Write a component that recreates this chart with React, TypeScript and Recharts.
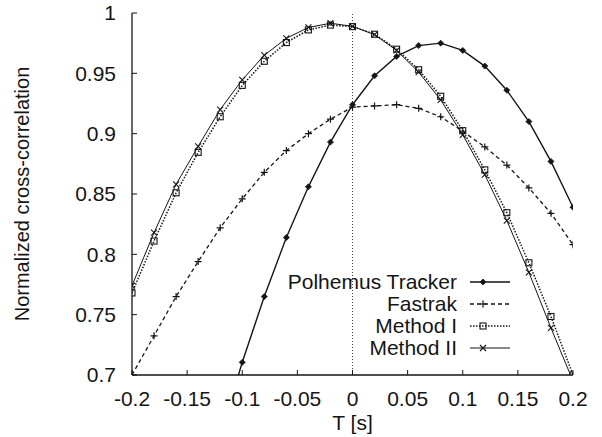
import React from 'react'
import { LineChart, Line, XAxis, YAxis, ReferenceLine, Legend } from 'recharts'

// T [s], sampled every 0.02 s
const tValues = [-0.2, -0.18, -0.16, -0.14, -0.12, -0.1, -0.08, -0.06, -0.04, -0.02, 0, 0.02, 0.04, 0.06, 0.08, 0.1, 0.12, 0.14, 0.16, 0.18, 0.2]

const polhemus = [null, null, null, null, 0.65, 0.7105, 0.765, 0.814, 0.856, 0.893, 0.924, 0.948, 0.964, 0.973, 0.975, 0.969, 0.956, 0.936, 0.91, 0.877, 0.839]
const fastrak = [0.7, 0.7325, 0.765, 0.794, 0.822, 0.846, 0.868, 0.886, 0.9, 0.912, 0.922, 0.923, 0.924, 0.921, 0.914, 0.902, 0.889, 0.874, 0.855, 0.834, 0.808]
const methodI = [0.768, 0.811, 0.851, 0.8845, 0.914, 0.94, 0.96, 0.9755, 0.986, 0.99, 0.9887, 0.9824, 0.97, 0.953, 0.931, 0.9025, 0.87, 0.8345, 0.793, 0.7485, 0.7]
const methodII = [0.774, 0.818, 0.858, 0.8895, 0.92, 0.9446, 0.965, 0.979, 0.988, 0.9915, 0.989, 0.982, 0.969, 0.951, 0.928, 0.899, 0.866, 0.828, 0.785, 0.739, 0.695]

const xTicks = [-0.2, -0.15, -0.1, -0.05, 0, 0.05, 0.1, 0.15, 0.2]
const yTicks = [0.7, 0.75, 0.8, 0.85, 0.9, 0.95, 1]

const INK = '#151515'
const FONT = '"Liberation Sans", Arial, Helvetica, sans-serif'
const FS = 21
const TICK = 5

const data = tValues.map((t, i) => ({
  t,
  polhemus: polhemus[i],
  fastrak: fastrak[i],
  methodI: methodI[i],
  methodII: methodII[i],
}))

type Kind = 'diamond' | 'plus' | 'square' | 'cross'

function Marker({ kind, cx, cy }: { kind: Kind; cx: number; cy: number }) {
  if (kind === 'diamond')
    return <path d={`M${cx},${cy - 3}L${cx + 3},${cy}L${cx},${cy + 3}L${cx - 3},${cy}Z`} fill={INK} stroke={INK} strokeWidth={0.8} />
  if (kind === 'plus')
    return <path d={`M${cx - 3.5},${cy}H${cx + 3.5}M${cx},${cy - 3.5}V${cy + 3.5}`} stroke={INK} strokeWidth={1.2} fill="none" />
  if (kind === 'square')
    return <rect x={cx - 3} y={cy - 3} width={6} height={6} fill="none" stroke={INK} strokeWidth={1.1} />
  return <path d={`M${cx - 3},${cy - 3}L${cx + 3},${cy + 3}M${cx - 3},${cy + 3}L${cx + 3},${cy - 3}`} stroke={INK} strokeWidth={1.1} fill="none" />
}

const series: { key: string; name: string; kind: Kind; dash?: string; width: number }[] = [
  { key: 'polhemus', name: 'Polhemus Tracker', kind: 'diamond', width: 1.4 },
  { key: 'fastrak', name: 'Fastrak', kind: 'plus', dash: '4 3', width: 1.3 },
  { key: 'methodI', name: 'Method I', kind: 'square', dash: '1.5 1.5', width: 1.5 },
  { key: 'methodII', name: 'Method II', kind: 'cross', width: 1 },
]

const dotFor = (kind: Kind, key: string) => (p: any) =>
  p.cx == null || p.cy == null || p.value == null
    ? <g key={`${key}-${p.index}`} />
    : <g key={`${key}-${p.index}`}><Marker kind={kind} cx={p.cx} cy={p.cy} /></g>

const fmt = (v: number) => String(v)

function BottomTick({ x, y, payload }: any) {
  return (
    <g>
      <line x1={x} x2={x} y1={y} y2={y - TICK} stroke={INK} strokeWidth={1} />
      <text x={x} y={y + 24} dy="0.35em" textAnchor="middle" fill={INK} fontSize={FS} fontFamily={FONT}>{fmt(payload.value)}</text>
    </g>
  )
}

function LeftTick({ x, y, payload }: any) {
  return (
    <g>
      <line x1={x} x2={x + TICK} y1={y} y2={y} stroke={INK} strokeWidth={1} />
      <text x={x - 16} y={y} dy="0.35em" textAnchor="end" fill={INK} fontSize={FS} fontFamily={FONT}>{fmt(payload.value)}</text>
    </g>
  )
}

function TopTick({ x, y }: any) {
  return <line x1={x} x2={x} y1={y} y2={y + TICK} stroke={INK} strokeWidth={1} />
}

function RightTick({ x, y }: any) {
  return <line x1={x} x2={x - TICK} y1={y} y2={y} stroke={INK} strokeWidth={1} />
}

function LegendBox() {
  return (
    <div style={{ fontFamily: FONT, fontSize: FS, color: INK }}>
      {series.map(s => (
        <div key={s.key} style={{ display: 'flex', alignItems: 'center', justifyContent: 'flex-end', height: 22, lineHeight: '22px' }}>
          <span>{s.name}</span>
          <svg width={42} height={22} style={{ marginLeft: 12 }}>
            <line x1={1} x2={41} y1={11} y2={11} stroke={INK} strokeWidth={s.width} strokeDasharray={s.dash} />
            <Marker kind={s.kind} cx={14} cy={11} />
          </svg>
        </div>
      ))}
    </div>
  )
}

export default function App() {
  return (
    <div style={{ position: 'absolute', left: 0, top: 0, background: '#fff' }}>
      <LineChart width={602} height={437} data={data} margin={{ top: 13, right: 29, left: 0, bottom: 0 }}>
        <XAxis
          dataKey="t" type="number" domain={[-0.2, 0.2]} ticks={xTicks} interval={0} allowDataOverflow
          height={62} tickSize={0} tickMargin={0} tickLine={false} tick={<BottomTick />}
          axisLine={{ stroke: INK, strokeWidth: 1.3 }}
          label={{ value: 'T [s]', position: 'insideBottom', offset: 7, fill: INK, fontSize: FS, fontFamily: FONT }}
        />
        <XAxis
          xAxisId="top" orientation="top" dataKey="t" type="number" domain={[-0.2, 0.2]} ticks={xTicks} interval={0} allowDataOverflow
          height={0} tickSize={0} tickMargin={0} tickLine={false} tick={<TopTick />}
          axisLine={{ stroke: INK, strokeWidth: 1.3 }}
        />
        <YAxis
          type="number" domain={[0.7, 1]} ticks={yTicks} interval={0} allowDataOverflow
          width={132} tickSize={0} tickMargin={0} tickLine={false} tick={<LeftTick />}
          axisLine={{ stroke: INK, strokeWidth: 1.3 }}
          label={{ value: 'Normalized cross-correlation', angle: -90, position: 'insideLeft', offset: 22, fill: INK, fontSize: 20, fontFamily: FONT, style: { textAnchor: 'middle' } }}
        />
        <YAxis
          yAxisId="right" orientation="right" type="number" domain={[0.7, 1]} ticks={yTicks} interval={0} allowDataOverflow
          width={0} tickSize={0} tickMargin={0} tickLine={false} tick={<RightTick />}
          axisLine={{ stroke: INK, strokeWidth: 1.3 }}
        />
        <ReferenceLine x={0} stroke="#444" strokeWidth={1} strokeDasharray="1 2" />
        {series.map(s => (
          <Line
            key={s.key}
            dataKey={s.key}
            name={s.name}
            type="linear"
            stroke={INK}
            strokeWidth={s.width}
            strokeDasharray={s.dash}
            dot={dotFor(s.kind, s.key)}
            activeDot={false}
            isAnimationActive={false}
          />
        ))}
        <Legend
          layout="vertical" align="center" verticalAlign="middle"
          wrapperStyle={{ left: 251, top: 271, width: 260 }}
          content={<LegendBox />}
        />
      </LineChart>
    </div>
  )
}
